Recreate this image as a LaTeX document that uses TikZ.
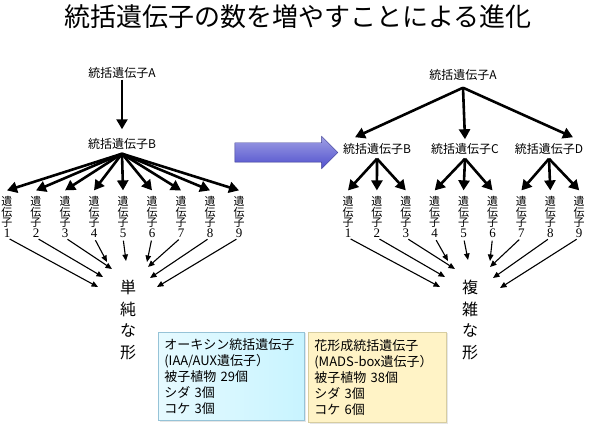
\documentclass[tikz,border=0pt]{standalone}
\usepackage{fontspec}
\setmainfont{Noto Sans CJK JP}
\newfontfamily\numfont{Liberation Serif}
\usepackage{tikz}
\usetikzlibrary{shapes,arrows,arrows.meta,positioning,shadows}
\usepackage{xcolor}
\definecolor{auxcyan}{RGB}{200,244,255}
\definecolor{auxedge}{RGB}{150,195,215}
\definecolor{madsyellow}{RGB}{255,243,198}
\definecolor{madsedge}{RGB}{215,205,160}
\definecolor{shiftblue}{RGB}{80,80,205}

\begin{document}
\begin{tikzpicture}[x=1pt,y=-1pt]
\tikzstyle{title}=[font=\fontsize{26}{30}\selectfont, inner sep=0pt]
\tikzstyle{master}=[font=\fontsize{12}{14}\selectfont, inner sep=1pt]
\tikzstyle{gene}=[font=\fontsize{11}{10.5}\selectfont, align=center, inner sep=0pt]
\tikzstyle{form}=[font=\fontsize{16}{21.5}\selectfont, align=center, inner sep=0pt]
\tikzstyle{bigarr}=[line width=2.6pt, -{Triangle[length=10pt,width=11pt]}]
\tikzstyle{thinarr}=[line width=1.1pt, -{Triangle[length=6.5pt,width=5.5pt]}, shorten <=3pt]
\tikzstyle{infobox}=[rectangle, draw, line width=0.6pt, anchor=north west, inner sep=6pt,
  align=left, font=\fontsize{13}{16}\selectfont,
  drop shadow={opacity=0.2, shadow xshift=1.2pt, shadow yshift=-1.2pt}]

\useasboundingbox (0,0) rectangle (589,427);

\node[title] (head) at (298,17) {統括遺伝子の数を増やすことによる進化};

% left: one master gene
\node[master] (lA) at (122,73) {統括遺伝子A};
\node[master] (lB) at (122,144) {統括遺伝子B};
\draw[bigarr] (lA.south) -- ([yshift=8pt]lB.north);
\coordinate (lfork) at ([yshift=-3pt]lB.south);
\foreach \i in {1,...,9} {
  \node[gene] (lg\i) at ({7+29*(\i-1)},217) {遺\\伝\\子\\{\numfont\fontsize{13}{10.5}\selectfont\i}};
  \draw[bigarr] (lfork) -- ([yshift=6pt]lg\i.north);
}
\node[form] (simple) at (128,320) {単\\純\\な\\形};
\foreach \i/\ex/\ey in {1/98/287,2/103/277,3/112/269,4/107/262,5/126/261,6/147/262,7/148/267,8/150/278,9/157/287} {
  \coordinate (le\i) at (\ex,\ey);
  \draw[thinarr] (lg\i.south) -- (le\i);
}

% shift
\node[single arrow, draw=shiftblue!70!black, line width=0.4pt, top color=shiftblue!55!white, bottom color=shiftblue,
  minimum height=103pt, inner sep=9.5pt, single arrow head extend=6.5pt] (shift) at (281.5,152.5) {};

% right: master genes B, C, D under A
\node[master] (rA) at (463,75) {統括遺伝子A};
\node[master] (rB) at (377,149) {統括遺伝子B};
\node[master] (rC) at (465,149) {統括遺伝子C};
\node[master] (rD) at (549,149) {統括遺伝子D};
\coordinate (rfork) at ([yshift=-6pt]rA.south);
\draw[bigarr] (rfork) -- ([xshift=-22pt,yshift=5pt]rB.north);
\draw[bigarr] (rfork) -- ([yshift=3pt]rC.north);
\draw[bigarr] (rfork) -- ([xshift=24pt,yshift=5pt]rD.north);
\foreach \i in {1,...,9} {
  \node[gene] (rg\i) at ({348+28.9*(\i-1)},217) {遺\\伝\\子\\{\numfont\fontsize{13}{10.5}\selectfont\i}};
}
\foreach \m/\a/\b/\c in {rB/1/2/3, rC/4/5/6, rD/7/8/9} {
  \coordinate (\m fork) at ([yshift=-3pt]\m.south);
  \foreach \g in {\a,\b,\c}
    \draw[bigarr] (\m fork) -- ([yshift=6pt]rg\g.north);
}
\node[form] (complex) at (470,320) {複\\雑\\な\\形};
\foreach \i/\ex/\ey in {1/440/287,2/445/277,3/455/269,4/448/261,5/468/260,6/490/261,7/490/267,8/493/278,9/500/288} {
  \coordinate (re\i) at (\ex,\ey);
  \draw[thinarr] (rg\i.south) -- (re\i);
}

% gene counts
\node[infobox, draw=auxedge, left color=auxcyan!45, right color=auxcyan, minimum width=146pt, minimum height=88pt, text width=134pt]
  (aux) at (158,332) {オーキシン統括遺伝子\\(IAA/AUX遺伝子）\\被子植物 29個\\シダ 3個\\コケ 3個};
\node[infobox, draw=madsedge, fill=madsyellow, minimum width=138pt, minimum height=90pt, text width=126pt]
  (mads) at (308,332) {花形成統括遺伝子\\(MADS-box遺伝子）\\被子植物 38個\\シダ 3個\\コケ 6個};
\end{tikzpicture}
\end{document}
